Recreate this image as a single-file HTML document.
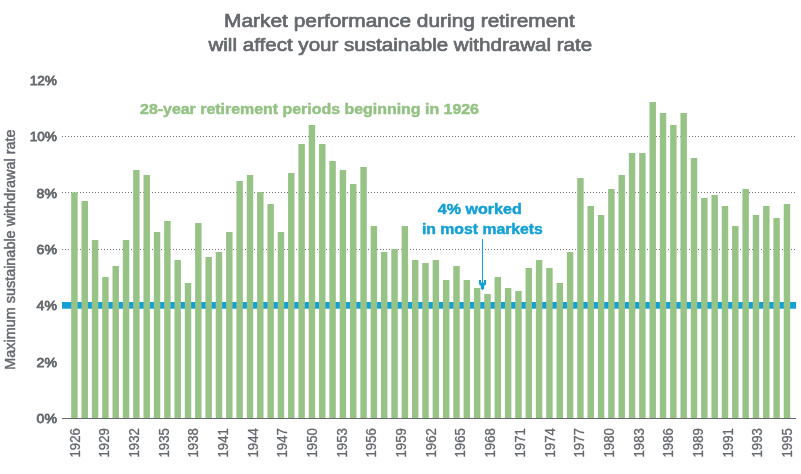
<!DOCTYPE html>
<html><head><meta charset="utf-8"><style>
html,body{margin:0;padding:0;background:#fff;overflow:hidden;width:801px;height:474px;}
svg{display:block;will-change:transform;font-family:"Liberation Sans",sans-serif;}
</style></head><body>
<svg width="801" height="474" viewBox="0 0 801 474">
<defs><pattern id="dots" x="62" y="0" width="3" height="474" patternUnits="userSpaceOnUse"><rect x="0" y="0" width="1" height="474" fill="#6e7073"/></pattern></defs>
<rect width="801" height="474" fill="#fff"/>
<text transform="translate(399.4,26.8) scale(1.1,1)" font-size="19" fill="#65686c" stroke="#65686c" stroke-width="0.7" stroke-linejoin="round" text-anchor="middle">Market performance during retirement</text>
<text transform="translate(400.3,50.5) scale(1.083,1)" font-size="19" fill="#65686c" stroke="#65686c" stroke-width="0.7" stroke-linejoin="round" text-anchor="middle">will affect your sustainable withdrawal rate</text>
<rect x="62" y="136" width="733" height="1" fill="url(#dots)"/><rect x="62" y="192" width="733" height="1" fill="url(#dots)"/><rect x="62" y="249" width="733" height="1" fill="url(#dots)"/>
<rect x="62" y="302" width="734" height="6.7" fill="#13a0d6"/>
<g fill="#97c386"><rect x="71.201" y="192.4" width="6.439" height="225.6"/><rect x="81.528" y="201" width="6.439" height="217"/><rect x="91.854" y="240" width="6.439" height="178"/><rect x="102.181" y="277" width="6.439" height="141"/><rect x="112.507" y="266" width="6.439" height="152"/><rect x="122.834" y="240" width="6.439" height="178"/><rect x="133.160" y="170" width="6.439" height="248"/><rect x="143.487" y="175" width="6.439" height="243"/><rect x="153.813" y="232" width="6.439" height="186"/><rect x="164.140" y="221" width="6.439" height="197"/><rect x="174.467" y="260" width="6.439" height="158"/><rect x="184.793" y="283" width="6.439" height="135"/><rect x="195.120" y="223" width="6.439" height="195"/><rect x="205.446" y="257" width="6.439" height="161"/><rect x="215.773" y="252" width="6.439" height="166"/><rect x="226.099" y="232" width="6.439" height="186"/><rect x="236.426" y="181" width="6.439" height="237"/><rect x="246.753" y="175" width="6.439" height="243"/><rect x="257.079" y="192" width="6.439" height="226"/><rect x="267.406" y="204" width="6.439" height="214"/><rect x="277.732" y="232" width="6.439" height="186"/><rect x="288.059" y="173" width="6.439" height="245"/><rect x="298.385" y="144" width="6.439" height="274"/><rect x="308.712" y="125" width="6.439" height="293"/><rect x="319.038" y="144" width="6.439" height="274"/><rect x="329.365" y="161" width="6.439" height="257"/><rect x="339.692" y="170" width="6.439" height="248"/><rect x="350.018" y="184" width="6.439" height="234"/><rect x="360.345" y="167" width="6.439" height="251"/><rect x="370.671" y="226" width="6.439" height="192"/><rect x="380.998" y="252" width="6.439" height="166"/><rect x="391.324" y="249" width="6.439" height="169"/><rect x="401.651" y="226" width="6.439" height="192"/><rect x="411.977" y="260" width="6.439" height="158"/><rect x="422.304" y="263" width="6.439" height="155"/><rect x="432.631" y="260" width="6.439" height="158"/><rect x="442.957" y="280" width="6.439" height="138"/><rect x="453.284" y="266" width="6.439" height="152"/><rect x="463.610" y="280" width="6.439" height="138"/><rect x="473.937" y="288" width="6.439" height="130"/><rect x="484.263" y="294" width="6.439" height="124"/><rect x="494.590" y="277" width="6.439" height="141"/><rect x="504.917" y="288" width="6.439" height="130"/><rect x="515.243" y="291" width="6.439" height="127"/><rect x="525.570" y="268" width="6.439" height="150"/><rect x="535.896" y="260" width="6.439" height="158"/><rect x="546.223" y="268" width="6.439" height="150"/><rect x="556.549" y="283" width="6.439" height="135"/><rect x="566.876" y="252" width="6.439" height="166"/><rect x="577.202" y="178" width="6.439" height="240"/><rect x="587.529" y="206" width="6.439" height="212"/><rect x="597.856" y="215" width="6.439" height="203"/><rect x="608.182" y="189" width="6.439" height="229"/><rect x="618.509" y="175" width="6.439" height="243"/><rect x="628.835" y="153" width="6.439" height="265"/><rect x="639.162" y="153" width="6.439" height="265"/><rect x="649.488" y="102" width="6.439" height="316"/><rect x="659.815" y="113" width="6.439" height="305"/><rect x="670.141" y="125" width="6.439" height="293"/><rect x="680.468" y="113" width="6.439" height="305"/><rect x="690.795" y="158" width="6.439" height="260"/><rect x="701.121" y="198" width="6.439" height="220"/><rect x="711.448" y="195" width="6.439" height="223"/><rect x="721.774" y="206" width="6.439" height="212"/><rect x="732.101" y="226" width="6.439" height="192"/><rect x="742.427" y="189" width="6.439" height="229"/><rect x="752.754" y="215" width="6.439" height="203"/><rect x="763.081" y="206" width="6.439" height="212"/><rect x="773.407" y="218" width="6.439" height="200"/><rect x="783.734" y="204" width="6.439" height="214"/></g>
<rect x="62" y="418" width="734" height="1" fill="#65686c"/>
<g fill="#65686c" font-size="13.6" stroke="#65686c" stroke-width="0.8"><text transform="translate(57,422.80) scale(1.04,1)" text-anchor="end">0%</text><text transform="translate(57,366.50) scale(1.04,1)" text-anchor="end">2%</text><text transform="translate(57,310.20) scale(1.04,1)" text-anchor="end">4%</text><text transform="translate(57,253.90) scale(1.04,1)" text-anchor="end">6%</text><text transform="translate(57,197.60) scale(1.04,1)" text-anchor="end">8%</text><text transform="translate(57,141.30) scale(1.005,1)" text-anchor="end">10%</text><text transform="translate(57,85.00) scale(1.005,1)" text-anchor="end">12%</text></g>
<g fill="#65686c" font-size="15.5" stroke="#65686c" stroke-width="0.3"><text transform="translate(79.50,457.5) rotate(-90) scale(0.85,1)">1926</text><text transform="translate(109.19,457.5) rotate(-90) scale(0.85,1)">1929</text><text transform="translate(138.88,457.5) rotate(-90) scale(0.85,1)">1932</text><text transform="translate(168.56,457.5) rotate(-90) scale(0.85,1)">1935</text><text transform="translate(198.25,457.5) rotate(-90) scale(0.85,1)">1938</text><text transform="translate(227.94,457.5) rotate(-90) scale(0.85,1)">1941</text><text transform="translate(257.62,457.5) rotate(-90) scale(0.85,1)">1944</text><text transform="translate(287.31,457.5) rotate(-90) scale(0.85,1)">1947</text><text transform="translate(317.00,457.5) rotate(-90) scale(0.85,1)">1950</text><text transform="translate(346.69,457.5) rotate(-90) scale(0.85,1)">1953</text><text transform="translate(376.38,457.5) rotate(-90) scale(0.85,1)">1956</text><text transform="translate(406.06,457.5) rotate(-90) scale(0.85,1)">1959</text><text transform="translate(435.75,457.5) rotate(-90) scale(0.85,1)">1962</text><text transform="translate(465.44,457.5) rotate(-90) scale(0.85,1)">1965</text><text transform="translate(495.12,457.5) rotate(-90) scale(0.85,1)">1968</text><text transform="translate(524.81,457.5) rotate(-90) scale(0.85,1)">1971</text><text transform="translate(554.50,457.5) rotate(-90) scale(0.85,1)">1974</text><text transform="translate(584.19,457.5) rotate(-90) scale(0.85,1)">1977</text><text transform="translate(613.88,457.5) rotate(-90) scale(0.85,1)">1980</text><text transform="translate(643.56,457.5) rotate(-90) scale(0.85,1)">1983</text><text transform="translate(673.25,457.5) rotate(-90) scale(0.85,1)">1986</text><text transform="translate(702.94,457.5) rotate(-90) scale(0.85,1)">1989</text><text transform="translate(732.62,457.5) rotate(-90) scale(0.85,1)">1991</text><text transform="translate(762.31,457.5) rotate(-90) scale(0.85,1)">1993</text><text transform="translate(792.00,457.5) rotate(-90) scale(0.85,1)">1995</text></g>
<text transform="translate(15,249.6) rotate(-90) scale(0.962,1)" fill="#65686c" stroke="#65686c" stroke-width="0.5" stroke-linejoin="round" font-size="15" text-anchor="middle">Maximum sustainable withdrawal rate</text>
<text transform="translate(309.5,113.8) scale(1.0415,1)" font-size="15.3" fill="#93c283" stroke="#93c283" stroke-width="0.45" stroke-linejoin="round" font-weight="bold" text-anchor="middle">28-year retirement periods beginning in 1926</text>
<text transform="translate(479.75,214.4) scale(1.051,1)" font-size="15.3" fill="#13a0d6" stroke="#13a0d6" stroke-width="0.45" stroke-linejoin="round" font-weight="bold" text-anchor="middle">4% worked</text>
<text transform="translate(482.4,234.4) scale(1.032,1)" font-size="15.3" fill="#13a0d6" stroke="#13a0d6" stroke-width="0.45" stroke-linejoin="round" font-weight="bold" text-anchor="middle">in most markets</text>
<rect x="482" y="239" width="1" height="45" fill="#13a0d6"/>
<path d="M479,280 H481 V282.6 H484 V280 H486 V284 L485,285.6 L484.2,285.6 L484.2,288.5 L482.5,290.3 L480.8,288.5 L480.8,285.6 L480,285.6 L479,284 Z" fill="#13a0d6"/>
</svg>
</body></html>
